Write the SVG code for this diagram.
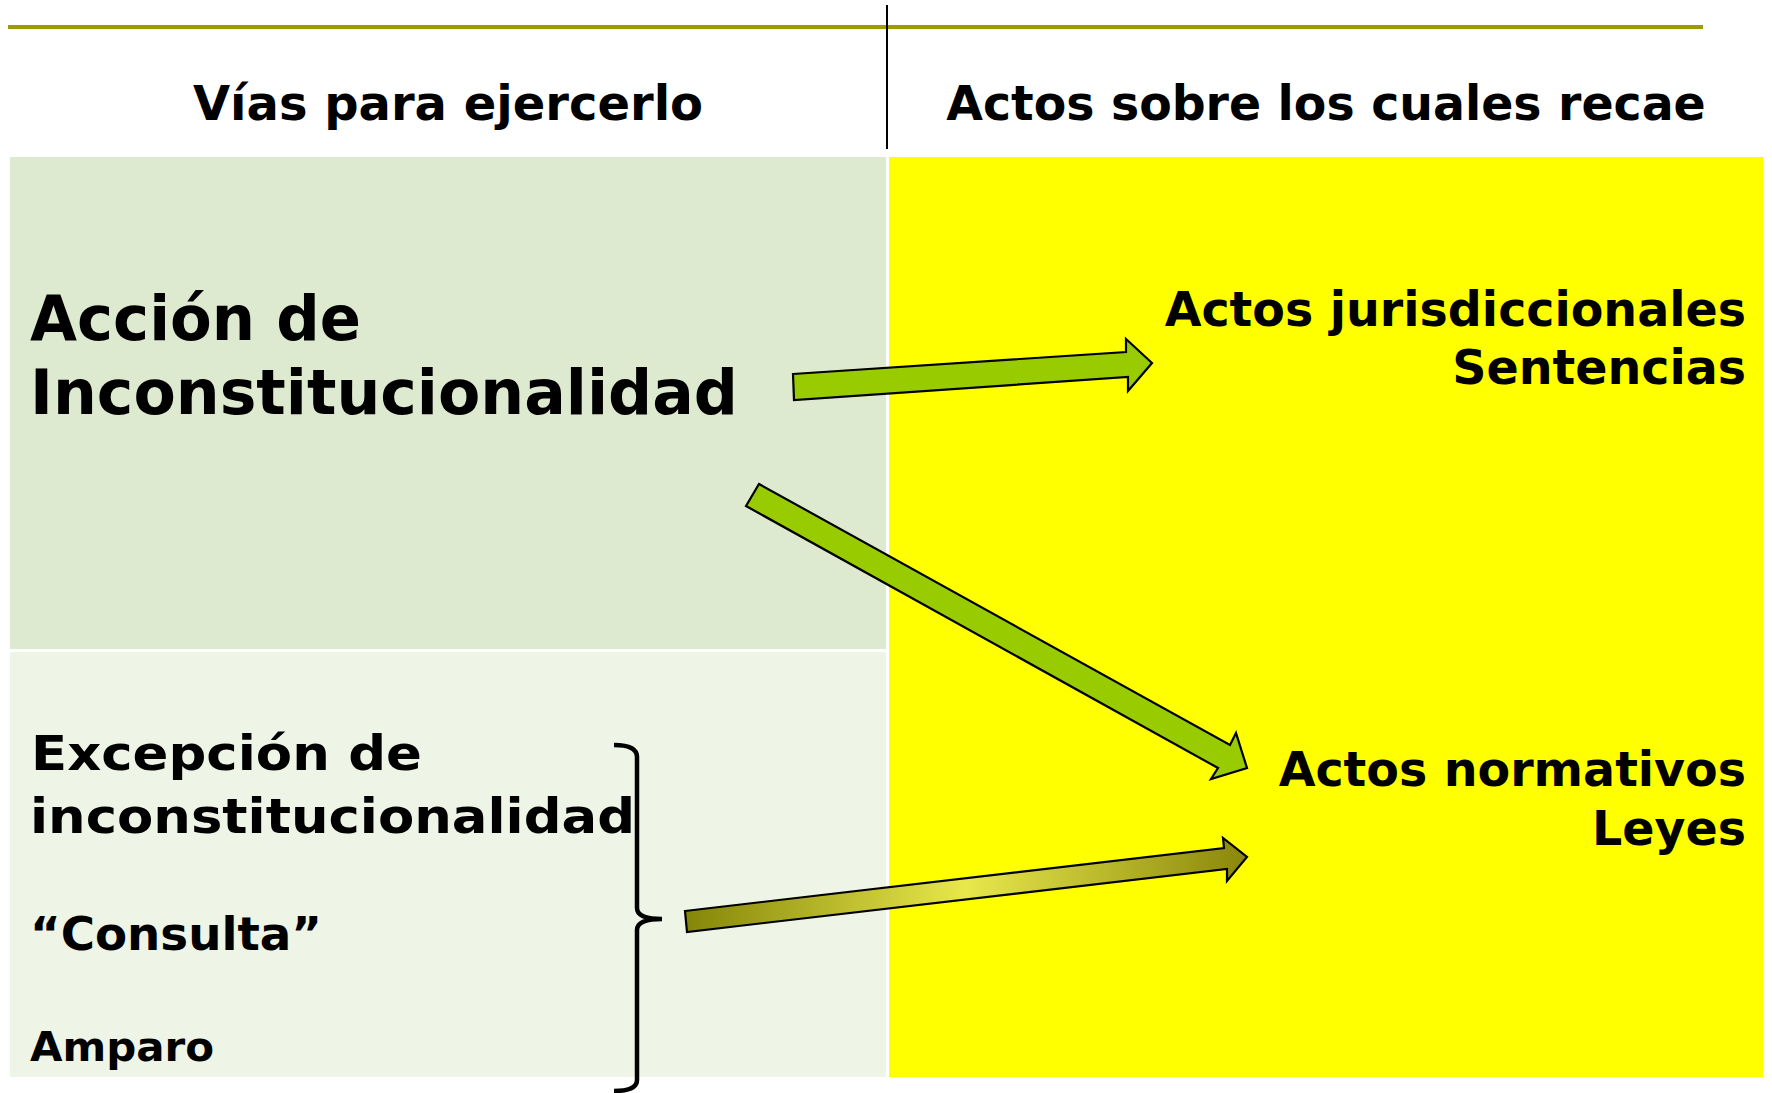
<svg xmlns="http://www.w3.org/2000/svg" width="1772" height="1093" viewBox="0 0 1772 1093">
<style>
.t{font-family:"DejaVu Sans","Verdana",sans-serif;font-weight:bold;fill:#000}
.arr{fill:#99CC00;stroke:#000;stroke-width:2.2;stroke-linejoin:miter}
</style>
<defs>
<linearGradient id="g3" x1="0" y1="0" x2="1" y2="0">
<stop offset="0" stop-color="#858508"/>
<stop offset="0.5" stop-color="#E8E84C"/>
<stop offset="1" stop-color="#8A860A"/>
</linearGradient>
</defs>
<rect width="1772" height="1093" fill="#FFFFFF"/>
<g id="header">
<rect x="8" y="25" width="1695" height="4" fill="#9C9C00"/>
<line x1="887" y1="5" x2="887" y2="149" stroke="#000" stroke-width="2"/>
<text class="t" x="448" y="120" font-size="48" text-anchor="middle">Vías para ejercerlo</text>
<text class="t" x="1326" y="120" font-size="47.4" text-anchor="middle">Actos sobre los cuales recae</text>
</g>
<g id="panel-accion">
<rect x="10" y="157" width="876" height="492" fill="#DEEACF"/>
<text class="t" x="30" y="340" font-size="63" textLength="331" lengthAdjust="spacingAndGlyphs">Acción de</text>
<text class="t" x="30" y="414" font-size="63" textLength="708" lengthAdjust="spacingAndGlyphs">Inconstitucionalidad</text>
</g>
<g id="panel-excepcion">
<rect x="10" y="652" width="876" height="425" fill="#EEF4E6"/>
<text class="t" x="31" y="770" font-size="48" textLength="391" lengthAdjust="spacingAndGlyphs">Excepción de</text>
<text class="t" x="30" y="833" font-size="48" textLength="605" lengthAdjust="spacingAndGlyphs">inconstitucionalidad</text>
<text class="t" x="30" y="950" font-size="46" textLength="292" lengthAdjust="spacingAndGlyphs">“Consulta”</text>
<text class="t" x="30" y="1061" font-size="40" textLength="184" lengthAdjust="spacingAndGlyphs">Amparo</text>
</g>
<g id="panel-actos">
<rect x="889" y="157" width="874" height="920" fill="#FFFF00"/>
<text class="t" x="1746" y="326" font-size="47.5" text-anchor="end">Actos jurisdiccionales</text>
<text class="t" x="1746" y="384" font-size="47.5" text-anchor="end">Sentencias</text>
<text class="t" x="1746" y="786" font-size="47.5" text-anchor="end">Actos normativos</text>
<text class="t" x="1746" y="845" font-size="47.5" text-anchor="end">Leyes</text>
</g>
<g id="bracket">
<path d="M614 745 Q637 745 637 757 L637 908 Q637 919 662 919 Q637 919 637 930 L637 1080 Q637 1091 614 1091" fill="none" stroke="#000" stroke-width="4.5"/>
</g>
<g id="connectors">
<polygon class="arr" points="793,374 1126,352 1126,339 1152,363 1128,391 1128,377 794,400"/>
<polygon class="arr" points="759,484 1230,745 1236,733 1247,768 1211,779 1218,768 746,506"/>
<polygon points="685,911 1224,848 1223,838 1247,857 1227,881 1227,869 687,932" fill="url(#g3)" stroke="#000" stroke-width="2.2"/>
</g>
</svg>
